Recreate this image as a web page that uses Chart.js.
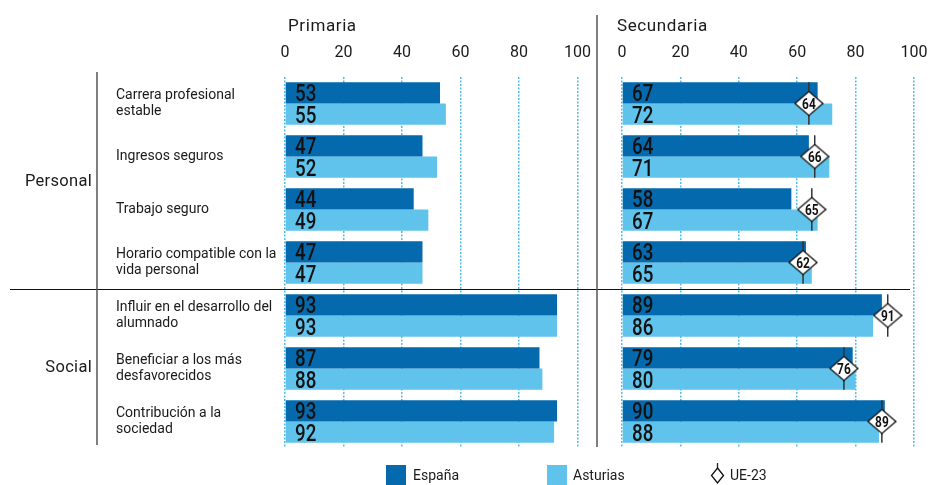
<!DOCTYPE html>
<html>
<head>
<meta charset="utf-8">
<script src="https://cdn.jsdelivr.net/npm/chart.js@4/dist/chart.umd.min.js"></script>
<style>
html,body{margin:0;padding:0;background:#fff;}
#wrap{position:relative;width:931px;height:485px;overflow:hidden;font-family:Roboto,"Noto Sans",sans-serif;color:#1a1a1a;}
#c1{position:absolute;left:0;top:0;}
#c2{position:absolute;left:600px;top:0;}
.lg{position:absolute;font-size:14px;line-height:20px;top:465px;}
.sw{position:absolute;top:465px;width:20px;height:20px;}
</style>
</head>
<body>
<div id="wrap">
  <canvas id="c1" width="600" height="485"></canvas>
  <canvas id="c2" width="331" height="485"></canvas>
  <div class="sw" style="left:386px;background:#0569AD"></div>
  <div class="lg" id="lg0" style="left:413px"></div>
  <div class="sw" style="left:547px;background:#5FC3EB"></div>
  <div class="lg" id="lg1" style="left:573px"></div>
  <svg style="position:absolute;left:710px;top:463px" width="15" height="22" viewBox="0 0 15 22">
    <line x1="7.5" y1="0" x2="7.5" y2="6" stroke="#222" stroke-width="1.3"/>
    <path d="M7.5 5 L13.5 12.5 L7.5 20 L1.5 12.5 Z" fill="#fff" stroke="#111" stroke-width="1.3"/>
  </svg>
  <div class="lg" id="lg2" style="left:730px"></div>
</div>
<script>
// ---- data ----
const categories = [
  ["Carrera profesional", "estable"],
  "Ingresos seguros",
  "Trabajo seguro",
  ["Horario compatible con la", "vida personal"],
  ["Influir en el desarrollo del", "alumnado"],
  ["Beneficiar a los más", "desfavorecidos"],
  ["Contribución a la", "sociedad"]
];
const groupNames = ["Personal", "Social"];
const groupFirst = [0, 4];
const groupLast = [3, 6];
const seriesNames = ["España", "Asturias", "UE-23"];
const panelTitles = ["Primaria", "Secundaria"];
const xTicks = [0, 20, 40, 60, 80, 100];
const primariaEspana = [53, 47, 44, 47, 93, 87, 93];
const primariaAsturias = [55, 52, 49, 47, 93, 88, 92];
const secundariaEspana = [67, 64, 58, 63, 89, 79, 90];
const secundariaAsturias = [72, 71, 67, 65, 86, 80, 88];
const secundariaUE23 = [64, 66, 65, 62, 91, 76, 89];

// ---- styles ----
const DARK = '#0569AD';
const LIGHT = '#5FC3EB';
const GRID = '#55BBE8';
const TEXT = '#1a1a1a';
const FONT = 'Roboto, "Noto Sans", sans-serif';

document.getElementById('lg0').textContent = seriesNames[0];
document.getElementById('lg1').textContent = seriesNames[1];
document.getElementById('lg2').textContent = seriesNames[2];

// diamond point image
const dia = document.createElement('canvas');
dia.width = 30; dia.height = 26;
(function(){
  const c = dia.getContext('2d');
  c.beginPath();
  c.moveTo(15, 1); c.lineTo(29, 13); c.lineTo(15, 25); c.lineTo(1, 13); c.closePath();
  c.fillStyle = '#fff'; c.fill();
  c.lineWidth = 1.3; c.strokeStyle = '#111'; c.stroke();
})();

function drawBarValues(chart, dsIdx, values) {
  const meta = chart.getDatasetMeta(dsIdx);
  const ctx = chart.ctx;
  const left = chart.chartArea.left;
  meta.data.forEach((bar, i) => {
    ctx.save();
    ctx.translate(left + 10, bar.y + 8.5);
    ctx.scale(0.78, 1);
    ctx.font = '500 24px ' + FONT;
    ctx.fillStyle = '#111';
    ctx.textAlign = 'left';
    ctx.textBaseline = 'alphabetic';
    ctx.fillText(String(values[i]), 0, 0);
    ctx.restore();
  });
}

function drawTitle(chart, text, x) {
  const ctx = chart.ctx;
  ctx.save();
  ctx.font = '17px ' + FONT;
  ctx.letterSpacing = '0.6px';
  ctx.fillStyle = TEXT;
  ctx.textAlign = 'left';
  ctx.textBaseline = 'alphabetic';
  ctx.fillText(text, x, 31);
  ctx.restore();
}

function hSeparator(chart, x0, x1) {
  const y = chart.scales.y;
  const yy = Math.round((y.getPixelForValue(groupLast[0]) + y.getPixelForValue(groupFirst[1])) / 2) + 0.5;
  const ctx = chart.ctx;
  ctx.save();
  ctx.strokeStyle = '#111';
  ctx.lineWidth = 1;
  ctx.beginPath(); ctx.moveTo(x0, yy); ctx.lineTo(x1, yy); ctx.stroke();
  ctx.restore();
}

function baseOptions(padLeft, padRight, yWidth, showY) {
  return {
    responsive: false,
    animation: false,
    indexAxis: 'y',
    layout: { padding: { left: padLeft, right: padRight, top: 0, bottom: 37 } },
    plugins: { legend: { display: false }, tooltip: { enabled: false } },
    datasets: { bar: { categoryPercentage: 0.8, barPercentage: 1.0 } },
    scales: {
      x: {
        position: 'top', min: 0, max: 100,
        afterBuildTicks: s => { s.ticks = xTicks.map(v => ({ value: v })); },
        afterFit: s => { s.height = 77; },
        ticks: { padding: 3, font: { family: FONT, size: 16 }, color: TEXT },
        grid: { color: GRID, lineWidth: 1.5, drawTicks: true, tickLength: 11, tickColor: 'rgba(0,0,0,0)' },
        border: { display: false, dash: [2, 1.5] }
      },
      y: {
        display: showY,
        afterFit: s => { s.width = yWidth; },
        ticks: { crossAlign: 'far', padding: 0, font: { family: FONT, size: 14, lineHeight: 1.2 }, color: TEXT },
        grid: { display: false },
        border: { display: false }
      }
    }
  };
}

// ---- left chart: Primaria ----
const leftPlugin = {
  id: 'leftDeco',
  afterDatasetsDraw(chart) {
    drawBarValues(chart, 0, primariaEspana);
    drawBarValues(chart, 1, primariaAsturias);
  },
  afterDraw(chart) {
    const ctx = chart.ctx;
    const y = chart.scales.y;
    drawTitle(chart, panelTitles[0], 288);
    hSeparator(chart, 10, 600);
    ctx.save();
    ctx.strokeStyle = '#555';
    ctx.lineWidth = 1.5;
    ctx.beginPath(); ctx.moveTo(97, 72); ctx.lineTo(97, 445); ctx.stroke();
    ctx.beginPath(); ctx.moveTo(597, 15); ctx.lineTo(597, 447); ctx.stroke();
    ctx.font = '16.5px ' + FONT;
    ctx.letterSpacing = '0.3px';
    ctx.fillStyle = TEXT;
    ctx.textAlign = 'right';
    ctx.textBaseline = 'middle';
    groupNames.forEach((g, k) => {
      const cy = (y.getPixelForValue(groupFirst[k]) + y.getPixelForValue(groupLast[k])) / 2;
      ctx.fillText(g, 92, cy - 1);
    });
    ctx.restore();
  }
};

new Chart(document.getElementById('c1'), {
  type: 'bar',
  data: {
    labels: categories,
    datasets: [
      { label: seriesNames[0], data: primariaEspana, backgroundColor: DARK, order: 1 },
      { label: seriesNames[1], data: primariaAsturias, backgroundColor: LIGHT, order: 1 }
    ]
  },
  options: baseOptions(116, 22.5, 169, true),
  plugins: [leftPlugin]
});

// ---- right chart: Secundaria ----
const rightPlugin = {
  id: 'rightDeco',
  beforeDatasetDraw(chart, args) {
    if (args.index !== 2) return;
    const m0 = chart.getDatasetMeta(0), m1 = chart.getDatasetMeta(1), m2 = chart.getDatasetMeta(2);
    const ctx = chart.ctx;
    ctx.save();
    ctx.strokeStyle = '#333';
    ctx.lineWidth = 1.5;
    m2.data.forEach((pt, i) => {
      const top = m0.data[i].y - m0.data[i].height / 2;
      const bot = m1.data[i].y + m1.data[i].height / 2;
      ctx.beginPath(); ctx.moveTo(pt.x, top); ctx.lineTo(pt.x, bot); ctx.stroke();
    });
    ctx.restore();
  },
  afterDatasetsDraw(chart) {
    drawBarValues(chart, 0, secundariaEspana);
    drawBarValues(chart, 1, secundariaAsturias);
    const m2 = chart.getDatasetMeta(2);
    const ctx = chart.ctx;
    m2.data.forEach((pt, i) => {
      ctx.save();
      ctx.translate(pt.x, pt.y + 5);
      ctx.scale(0.85, 1);
      ctx.font = 'bold 14px ' + FONT;
      ctx.fillStyle = '#111';
      ctx.textAlign = 'center';
      ctx.textBaseline = 'alphabetic';
      ctx.fillText(String(secundariaUE23[i]), 0, 0);
      ctx.restore();
    });
  },
  afterDraw(chart) {
    drawTitle(chart, panelTitles[1], 17);
    hSeparator(chart, 0, 310);
  }
};

new Chart(document.getElementById('c2'), {
  type: 'bar',
  data: {
    labels: categories,
    datasets: [
      { label: seriesNames[0], data: secundariaEspana, backgroundColor: DARK, order: 1 },
      { label: seriesNames[1], data: secundariaAsturias, backgroundColor: LIGHT, order: 1 },
      { type: 'line', label: seriesNames[2], data: secundariaUE23, indexAxis: 'y', showLine: false,
        pointStyle: dia, pointRadius: 14, pointHoverRadius: 14, order: 0 }
    ]
  },
  options: baseOptions(22, 17, 0, false),
  plugins: [rightPlugin]
});
</script>
</body>
</html>
